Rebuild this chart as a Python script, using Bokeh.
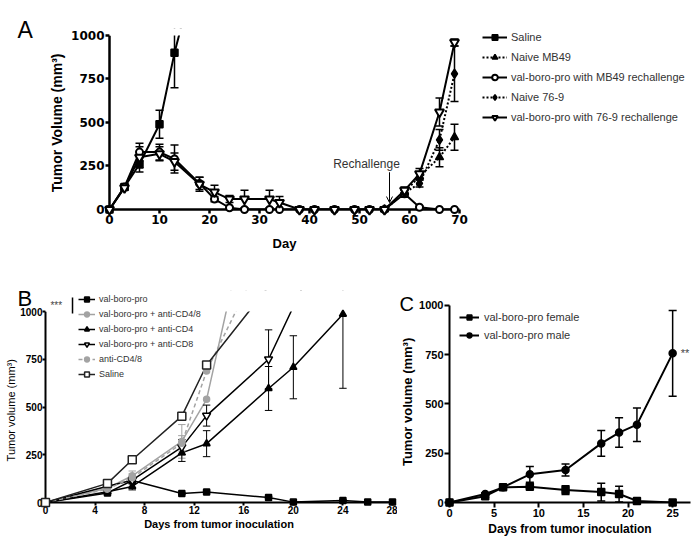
from bokeh.plotting import figure
from bokeh.models import (Legend, LegendItem, Label, Arrow, OpenHead, FixedTicker, Range1d,
                          BoxAnnotation, Span)
from bokeh.layouts import column, row
from bokeh.embed import file_html
from bokeh.resources import INLINE
from bokeh.core.properties import value

# ---------------- Panel A data ----------------
a_days = [0, 3, 6, 10, 13, 18, 21, 24, 27, 32, 34, 38, 41, 45, 49, 52, 55, 59, 62, 66, 69]
a_saline_days = [0, 3, 6, 10, 13, 15]
a_saline = [0, 130, 260, 490, 900, 1122]
a_saline_err = [0, 15, 45, 80, 200, 0]
a_naive_days = [55, 59, 62, 66, 69]
a_naive_mb49 = [0, 100, 190, 300, 415]
a_naive_mb49_err = [0, 15, 20, 55, 75]
a_vbp_mb49 = [0, 130, 330, 330, 290, 150, 60, 10, 0, 0, 0, 0, 0, 0, 0, 0, 0, 90, 13, 0, 0]
a_vbp_mb49_err = [0, 15, 50, 45, 80, 35, 15, 5, 0, 0, 0, 0, 0, 0, 0, 0, 0, 20, 5, 0, 0]
a_naive_769 = [0, 95, 150, 400, 780]
a_naive_769_err = [0, 15, 20, 60, 160]
a_vbp_769 = [0, 125, 300, 320, 275, 145, 100, 60, 60, 60, 40, 0, 0, 0, 0, 0, 0, 110, 205, 560, 960]
a_vbp_769_err = [0, 15, 60, 40, 50, 40, 40, 20, 50, 50, 35, 0, 0, 0, 0, 0, 0, 20, 30, 80, 20]
a_xticks = [0, 10, 20, 30, 40, 50, 60, 70]
a_yticks = [0, 250, 500, 750, 1000]

# ---------------- Panel B data ----------------
b_vbp_days = [0, 5, 7, 11, 13, 18, 20, 24, 26, 28]
b_vbp = [0, 50, 115, 47, 55, 26, 2, 10, 3, 3]
b_vbp_err = [0, 5, 10, 5, 5, 5, 0, 5, 0, 0]
b_cd48_days = [0, 5, 7, 11, 13, 15]
b_cd48 = [0, 75, 140, 320, 540, 1122]
b_cd48_err = [0, 10, 25, 88, 0, 0]
b_cd4_days = [0, 5, 7, 11, 13, 18, 20, 24]
b_cd4 = [0, 56, 84, 260, 308, 597, 708, 986]
b_cd4_err = [0, 5, 18, 45, 68, 115, 165, 388]
b_cd8_days = [0, 5, 7, 11, 13, 18, 21]
b_cd8 = [0, 85, 117, 290, 455, 750, 1163]
b_cd8_err = [0, 8, 20, 40, 55, 154, 0]
b_anti_days = [0, 5, 7, 11, 13, 17]
b_anti = [0, 70, 130, 310, 688, 1218]
b_anti_err = [0, 8, 20, 40, 0, 0]
b_sal_days = [0, 5, 7, 11, 13, 18]
b_sal = [0, 100, 224, 452, 720, 1130]
b_sal_err = [0, 8, 10, 15, 15, 0]
b_xticks = [0, 4, 8, 12, 16, 20, 24, 28]
b_yticks = [0, 250, 500, 750, 1000]

# ---------------- Panel C data ----------------
c_days = [0, 4, 6, 9, 13, 17, 19, 21, 25]
c_female = [0, 32, 77, 80, 63, 53, 43, 8, 0]
c_female_err = [0, 5, 10, 8, 22, 45, 40, 5, 0]
c_male = [0, 43, 77, 143, 165, 300, 355, 395, 757]
c_male_err = [0, 5, 10, 40, 30, 65, 75, 85, 218]
c_xticks = [0, 5, 10, 15, 20, 25]
c_yticks = [0, 250, 500, 750, 1000]

FONT = "Liberation Sans"
YMAX = 1000
NB = "\u00a0"


def add_series(p, xs, ys, errs, marker, size, color, fill, dash, lw, cap,
               ecolor=None, elw=1.5, mlw=1.5):
    ecolor = ecolor or color
    ex = [x for x, e in zip(xs, errs) if e > 0]
    lo = [y - e for y, e in zip(ys, errs) if e > 0]
    hi = [y + e for y, e in zip(ys, errs) if e > 0]
    if ex:
        p.segment(x0=ex, y0=lo, x1=ex, y1=hi, line_color=ecolor, line_width=elw)
        p.segment(x0=[x - cap for x in ex], y0=lo, x1=[x + cap for x in ex], y1=lo,
                  line_color=ecolor, line_width=elw)
        p.segment(x0=[x - cap for x in ex], y0=hi, x1=[x + cap for x in ex], y1=hi,
                  line_color=ecolor, line_width=elw)
    ln = p.line(xs, ys, line_color=color, line_width=lw, line_dash=dash)
    mx = [x for x, y in zip(xs, ys) if y <= YMAX]
    my = [y for y in ys if y <= YMAX]
    sc = p.scatter(mx, my, marker=marker, size=size, line_color=color,
                   fill_color=fill, line_width=mlw, level="overlay")
    return [ln, sc]


def style(p, tick_font, tick_size, tick_out, axis_w, xlabel, ylabel,
          xl_size, yl_size, yl_style, xl_standoff, yl_standoff, lab_standoff):
    p.xgrid.grid_line_color = None
    p.ygrid.grid_line_color = None
    p.outline_line_color = None
    p.background_fill_color = "white"
    p.border_fill_color = "white"
    for ax in (p.xaxis[0], p.yaxis[0]):
        ax.axis_line_width = axis_w
        ax.axis_line_color = "black"
        ax.major_tick_line_width = axis_w
        ax.major_tick_in = 0
        ax.major_tick_out = tick_out
        ax.minor_tick_line_color = None
        ax.major_label_text_font = tick_font
        ax.major_label_text_font_size = tick_size
        ax.major_label_text_font_style = "bold"
        ax.major_label_text_color = "black"
        ax.major_label_standoff = lab_standoff
        ax.axis_label_text_font = FONT
        ax.axis_label_text_color = "black"
    if xlabel:
        p.xaxis.axis_label = xlabel
        p.xaxis.axis_label_text_font_size = xl_size
        p.xaxis.axis_label_text_font_style = "bold"
        p.xaxis.axis_label_standoff = xl_standoff
    p.yaxis.axis_label = ylabel
    p.yaxis.axis_label_text_font_size = yl_size
    p.yaxis.axis_label_text_font_style = yl_style
    p.yaxis.axis_label_standoff = yl_standoff


def make_legend(items, loc, font_size, gw, gh, spacing, standoff):
    lg = Legend(items=items, location=loc)
    lg.label_text_font = FONT
    lg.label_text_font_size = font_size
    lg.label_text_color = "#333333"
    lg.glyph_width = gw
    lg.glyph_height = gh
    lg.label_height = gh
    lg.spacing = spacing
    lg.label_standoff = standoff
    lg.padding = 0
    lg.margin = 0
    lg.border_line_color = None
    lg.background_fill_alpha = 0
    return lg


def free_text(p, x, y, txt, size, style="normal", align="left", baseline="alphabetic"):
    p.text(x=[x], y=[y], text=[txt], text_font=value(FONT), text_font_size=size,
           text_font_style=style, text_align=align, text_baseline=baseline,
           text_color="black", level="overlay")


def blank_above(p, top):
    # white band above the 1000 limit (axes stop at 1000)
    p.add_layout(BoxAnnotation(bottom=1000, fill_color="white", fill_alpha=1, line_alpha=0))
    p.add_layout(Span(location=top, dimension="width", line_color="white", line_width=4))


# ======================= Panel A =======================
pA = figure(width=699, height=264, x_range=Range1d(0, 118), y_range=Range1d(0, 1040),
            output_backend="svg", toolbar_location=None,
            min_border_left=109, min_border_right=0, min_border_top=28, min_border_bottom=55)
style(pA, "DejaVu Sans", "12px", 4, 2.5, None, "Tumor Volume (mm³)" + NB * 2,
      "13px", "14px", "bold", 9, 3, 1)
pA.xaxis.ticker = FixedTicker(ticks=a_xticks)
pA.yaxis.ticker = FixedTicker(ticks=a_yticks)
pA.xaxis.bounds = (0, 70)
pA.yaxis.bounds = (0, 1000)

A_STYLES = [
    ("Saline", "square", 7, "black", "black", "solid", 1.5),
    ("Naive MB49", "triangle", 8, "black", "black", "2 2", 1.5),
    ("val-boro-pro with MB49 rechallenge", "circle", 7, "black", "white", "solid", 2),
    ("Naive 76-9", "diamond", 9, "black", "black", "2 2", 1.5),
    ("val-boro-pro with 76-9 rechallenge", "inverted_triangle", 9, "black", "white", "solid", 2),
]
A_DATA = [
    (a_saline_days, a_saline, a_saline_err),
    (a_naive_days, a_naive_mb49, a_naive_mb49_err),
    (a_days, a_vbp_mb49, a_vbp_mb49_err),
    (a_naive_days, a_naive_769, a_naive_769_err),
    (a_days, a_vbp_769, a_vbp_769_err),
]
itemsA = []
for (lab, mk, sz, col, fill, dash, mlw), (xs, ys, es) in zip(A_STYLES, A_DATA):
    rr = add_series(pA, xs, ys, es, mk, sz, col, fill, dash, 2, 0.8, mlw=mlw)
    itemsA.append(LegendItem(label=lab, renderers=rr))

blank_above(pA, 1040)
pA.add_layout(make_legend(itemsA, (373, 85), "11px", 25, 14, 6, 4))

pA.add_layout(Label(x=51.4, y=264, text="Rechallenge", text_font=FONT, text_font_size="12px",
                    text_align="center", text_baseline="middle", text_color="#333333"))
pA.add_layout(Arrow(x_start=56, y_start=214, x_end=56, y_end=40, line_width=1,
                    end=OpenHead(size=6, line_width=1)))
free_text(pA, 35, -195, "Day", "13px", style="bold", align="center", baseline="middle")
free_text(pA, -18.4, 1029, "A", "23px")

# ======================= Panel B =======================
GRAY = "#a3a3a3"
pB = figure(width=397, height=275, x_range=Range1d(0, 28), y_range=Range1d(0, 1110),
            output_backend="svg", toolbar_location=None,
            min_border_left=45, min_border_right=5, min_border_top=26, min_border_bottom=37)
style(pB, FONT, "10px", 3, 2, "Days from tumor inoculation",
      "Tumor volume (mm³)" + NB * 9,
      "11px", "11px", "normal", 1, 0, 0)
pB.xaxis.ticker = FixedTicker(ticks=b_xticks)
pB.yaxis.ticker = FixedTicker(ticks=b_yticks)
pB.yaxis.bounds = (0, 1000)

rB_vbp = add_series(pB, b_vbp_days, b_vbp, b_vbp_err, "square", 6, "black", "black",
                    "solid", 1.5, 0.3, elw=1)
rB_cd48 = add_series(pB, b_cd48_days, b_cd48, b_cd48_err, "circle", 6, GRAY, GRAY,
                     "solid", 1.5, 0.3, elw=1)
rB_cd4 = add_series(pB, b_cd4_days, b_cd4, b_cd4_err, "triangle", 7, "black", "black",
                    "solid", 1.5, 0.3, elw=1)
rB_cd8 = add_series(pB, b_cd8_days, b_cd8, b_cd8_err, "inverted_triangle", 8, "black", "white",
                    "solid", 1.5, 0.3, elw=1)
rB_anti = add_series(pB, b_anti_days, b_anti, b_anti_err, "circle", 6, GRAY, GRAY,
                     "4 3", 1.5, 0.3, elw=1)
rB_sal = add_series(pB, b_sal_days, b_sal, b_sal_err, "square", 8, "#222222", "white",
                    "solid", 1.5, 0.3, elw=1)

blank_above(pB, 1110)

legB = make_legend([
    LegendItem(label="val-boro-pro", renderers=rB_vbp),
    LegendItem(label="val-boro-pro + anti-CD4/8", renderers=rB_cd48),
    LegendItem(label="val-boro-pro + anti-CD4", renderers=rB_cd4),
    LegendItem(label="val-boro-pro + anti-CD8", renderers=rB_cd8),
    LegendItem(label="anti-CD4/8", renderers=rB_anti),
    LegendItem(label="Saline", renderers=rB_sal),
], (33, 122), "9px", 17, 12, 3, 4)
pB.add_layout(legB)

pB.add_layout(Label(x=0.4, y=1031, text="***", text_font=FONT, text_font_size="10px",
                    text_align="left", text_baseline="middle"))
pB.add_layout(Arrow(x_start=2.18, y_start=1073, x_end=2.18, y_end=990, line_width=1.5,
                    end=None))
free_text(pB, -2.26, 1068, "B", "22px")

# ======================= Panel C =======================
pC = figure(width=302, height=275, x_range=Range1d(0, 27), y_range=Range1d(0, 1076),
            output_backend="svg", toolbar_location=None,
            min_border_left=51, min_border_right=9, min_border_top=26, min_border_bottom=37)
style(pC, FONT, "11px", 5, 2, "Days from tumor inoculation", "Tumor volume (mm³)" + NB * 3,
      "12px", "13px", "bold", 2, 1, 1)
pC.xaxis.ticker = FixedTicker(ticks=c_xticks)
pC.yaxis.ticker = FixedTicker(ticks=c_yticks)
pC.yaxis.bounds = (0, 1000)

rC_f = add_series(pC, c_days, c_female, c_female_err, "square", 7, "black", "black",
                  "solid", 2, 0.45)
rC_m = add_series(pC, c_days, c_male, c_male_err, "circle", 7, "black", "black",
                  "solid", 2, 0.45)

legC = make_legend([
    LegendItem(label="val-boro-pro female", renderers=rC_f),
    LegendItem(label="val-boro-pro male", renderers=rC_m),
], (10, 161), "11px", 20, 12, 6, 5)
pC.add_layout(legC)

pC.add_layout(Label(x=25.9, y=761, text="**", text_font=FONT, text_font_size="11px",
                    text_align="left", text_baseline="middle"))
free_text(pC, -5.6, 1010, "C", "20px")

layout = column(row(pA), row(pB, pC))
open("out.html", "w").write(file_html(layout, INLINE))
